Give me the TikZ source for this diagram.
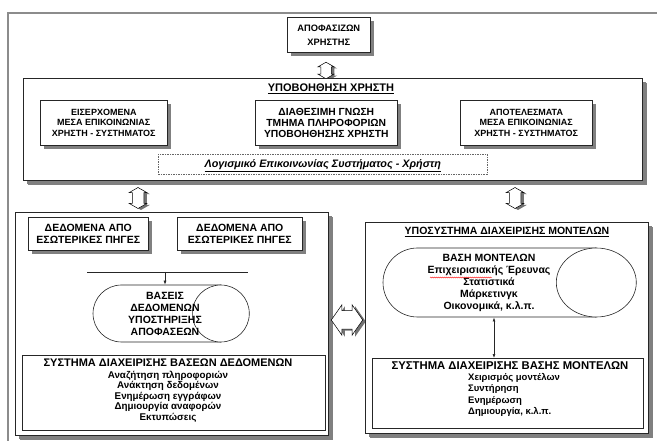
\documentclass[tikz,border=0pt]{standalone}
\usepackage{fontspec}
\setmainfont{Liberation Sans}
\usetikzlibrary{shapes.arrows,shapes.misc,shapes.geometric,shadows,arrows.meta,decorations.pathmorphing}
\newcommand{\myfA}{\fontsize{9}{10.5}\selectfont\bfseries}
\newcommand{\myfB}{\fontsize{10.5}{12}\selectfont\bfseries}
\newcommand{\myfT}{\fontsize{11}{12}\selectfont\bfseries}
\begin{document}
\begin{tikzpicture}[x=1pt,y=-1pt,
  shbox/.style={draw=black!85, line width=0.6pt, fill=white, inner sep=0pt, anchor=north west, align=center,
    drop shadow={shadow xshift=4pt,shadow yshift=-4pt,fill=black!50,opacity=1}},
  bigbox/.style={shbox, drop shadow={shadow xshift=5pt,shadow yshift=-5pt,fill=black!50,opacity=1}},
  plainbox/.style={draw=black!85, line width=0.6pt, fill=white, inner sep=0pt, anchor=north west},
  dashbox/.style={draw=black!60, line width=0.6pt, dash pattern=on 1.5pt off 1pt, inner sep=0pt, anchor=north west},
  oval/.style={draw=black!85, line width=0.6pt, fill=white, rounded rectangle, rounded rectangle right arc=none, inner sep=0pt},
  endcap/.style={draw=black!85, line width=0.6pt, fill=white, ellipse, inner sep=0pt},
  varrow/.style={draw=black, line width=0.5pt, fill=white, double arrow, shape border rotate=90, inner sep=5pt,
    double arrow head extend=3pt, double arrow tip angle=120,
    drop shadow={shadow xshift=3pt,shadow yshift=-1.5pt,fill=black!55,opacity=1}},
  txt/.style={inner sep=0pt, align=center},
  tip/.style={-{Latex[length=4pt,width=3pt]}},
  dtip/.style={{Latex[length=4pt,width=3pt]}-{Latex[length=4pt,width=3pt]}}
]
\useasboundingbox (0,0) rectangle (657,441);
% outer frame
\draw[black!45, line width=1.5pt] (8,441) -- (8,13) -- (657,13);

% top
\node[shbox, minimum width=83pt, minimum height=35pt, font=\fontsize{9.3}{11}\selectfont\bfseries, text depth=0pt] (apof) at (287,17)
  {ΑΠΟΦΑΣΙΖΩΝ\\[3pt]ΧΡΗΣΤΗΣ};
\node[varrow, minimum height=16pt] (a1) at (326,70.5) {};

\node[bigbox, minimum width=619pt, minimum height=102pt] (ypo) at (23,78) {};
\node[txt, font=\myfT] (ypot) at (331,89) {\underline{ΥΠΟΒΟΗΘΗΣΗ ΧΡΗΣΤΗ}};
\node[shbox, minimum width=127pt, minimum height=45pt, font=\myfA] (inL) at (40,100)
  {ΕΙΣΕΡΧΟΜΕΝΑ\\ΜΕΣΑ ΕΠΙΚΟΙΝΩΝΙΑΣ\\ΧΡΗΣΤΗ - ΣΥΣΤΗΜΑΤΟΣ};
\node[shbox, minimum width=142pt, minimum height=45pt, font=\fontsize{10.3}{10.8}\selectfont\bfseries] (inM) at (255,100)
  {ΔΙΑΘΕΣΙΜΗ ΓΝΩΣΗ\\ΤΜΗΜΑ ΠΛΗΡΟΦΟΡΙΩΝ\\ΥΠΟΒΟΗΘΗΣΗΣ ΧΡΗΣΤΗ};
\node[shbox, minimum width=132pt, minimum height=45pt, font=\myfA] (inR) at (460,100)
  {ΑΠΟΤΕΛΕΣΜΑΤΑ\\ΜΕΣΑ ΕΠΙΚΟΙΝΩΝΙΑΣ\\ΧΡΗΣΤΗ - ΣΥΣΤΗΜΑΤΟΣ};
\node[dashbox, minimum width=329pt, minimum height=20pt] (dash) at (158,154) {};
\node[txt, font=\fontsize{10.8}{12}\selectfont\bfseries\itshape] (dasht) at ([yshift=-1pt]dash.center) {\underline{Λογισμικό Επικοινωνίας Συστήματος - Χρήστη}};

% connecting arrows
\node[varrow, minimum height=21pt, inner sep=5.5pt] (a2) at (138,198) {};
\node[varrow, minimum height=21pt, inner sep=5.5pt] (a3) at (515,198) {};

% left lower section
\node[bigbox, minimum width=313pt, minimum height=223pt] (lbox) at (15,212) {};
\node[shbox, minimum width=120pt, minimum height=33pt, font=\myfB] (d1) at (28,217)
  {ΔΕΔΟΜΕΝΑ ΑΠΟ\\ΕΣΩΤΕΡΙΚΕΣ ΠΗΓΕΣ};
\node[shbox, minimum width=125pt, minimum height=33pt, font=\myfB] (d2) at (177,217)
  {ΔΕΔΟΜΕΝΑ ΑΠΟ\\ΕΣΩΤΕΡΙΚΕΣ ΠΗΓΕΣ};
\coordinate (bl) at (87,272);
\coordinate (br) at (248,272);
\coordinate (bm) at (165,272);
\draw[black!85, line width=0.6pt] (bl) -- (br);
\node[oval, minimum width=127.5pt, minimum height=57pt] (ovL) at (156.75,313.5) {};
\node[endcap, minimum width=57pt, minimum height=57pt] (capL) at (ovL.east) {};
\draw[tip, black!85, line width=0.6pt] (bm) -- (bm |- ovL.north);
\node[txt, font=\myfB, text depth=0pt] (ovLt) at (165,314)
  {ΒΑΣΕΙΣ\\ΔΕΔΟΜΕΝΩΝ\\ΥΠΟΣΤΗΡΙΞΗΣ\\ΑΠΟΦΑΣΕΩΝ};
\node[plainbox, minimum width=303pt, minimum height=75pt] (dbL) at (22,355) {};
\node[txt, font=\myfT] (dbLt) at (168,363) {ΣΥΣΤΗΜΑ ΔΙΑΧΕΙΡΙΣΗΣ ΒΑΣΕΩΝ ΔΕΔΟΜΕΝΩΝ};
\node[txt, font=\fontsize{9.8}{10.6}\selectfont\bfseries, anchor=north] (dbLi) at (168,370.5)
  {Αναζήτηση πληροφοριών\\Ανάκτηση δεδομένων\\Ενημέρωση εγγράφων\\Δημιουργία αναφορών\\Εκτυπώσεις};

% middle horizontal arrow
\node[varrow, shape border rotate=0, minimum height=29pt, inner sep=9pt, double arrow head extend=6pt,
  double arrow tip angle=110] (a4) at (347,320) {};

% right lower section
\node[bigbox, minimum width=283pt, minimum height=211pt] (rbox) at (365,222) {};
\node[txt, font=\myfB] (rboxt) at (507,232) {\underline{ΥΠΟΣΥΣΤΗΜΑ ΔΙΑΧΕΙΡΙΣΗΣ ΜΟΝΤΕΛΩΝ}};
\node[oval, minimum width=213pt, minimum height=69pt] (ovR) at (489.5,282.5) {};
\node[endcap, minimum width=80pt, minimum height=69pt] (capR) at (ovR.east) {};
\node[txt, font=\myfB, anchor=north] (ovRt) at (489,254)
  {ΒΑΣΗ ΜΟΝΤΕΛΩΝ\\Επιχειρισιακής Έρευνας\\Στατιστικά\\Μάρκετινγκ\\Οικονομικά, κ.λ.π.};
\coordinate (sq1) at (430,277.5);
\coordinate (sq2) at (492,277.5);
\draw[red, line width=0.4pt, decorate, decoration={snake, amplitude=0.5pt, segment length=2pt}] (sq1) -- (sq2);
\node[plainbox, minimum width=271pt, minimum height=70pt] (dbR) at (372,358) {};
\node[txt, font=\fontsize{11.3}{12}\selectfont\bfseries] (dbRt) at (510,366) {ΣΥΣΤΗΜΑ ΔΙΑΧΕΙΡΙΣΗΣ ΒΑΣΗΣ ΜΟΝΤΕΛΩΝ};
\node[txt, align=left, anchor=north west, font=\fontsize{9.5}{11.5}\selectfont\bfseries] (dbRi) at (468,373)
  {Χειρισμός μοντέλων\\Συντήρηση\\Ενημέρωση\\Δημιουργία, κ.λ.π.};
\coordinate (ar1) at (494,317.5);
\draw[dtip, black!85, line width=0.6pt] (ar1) -- (ar1 |- dbR.north);
\end{tikzpicture}
\end{document}
